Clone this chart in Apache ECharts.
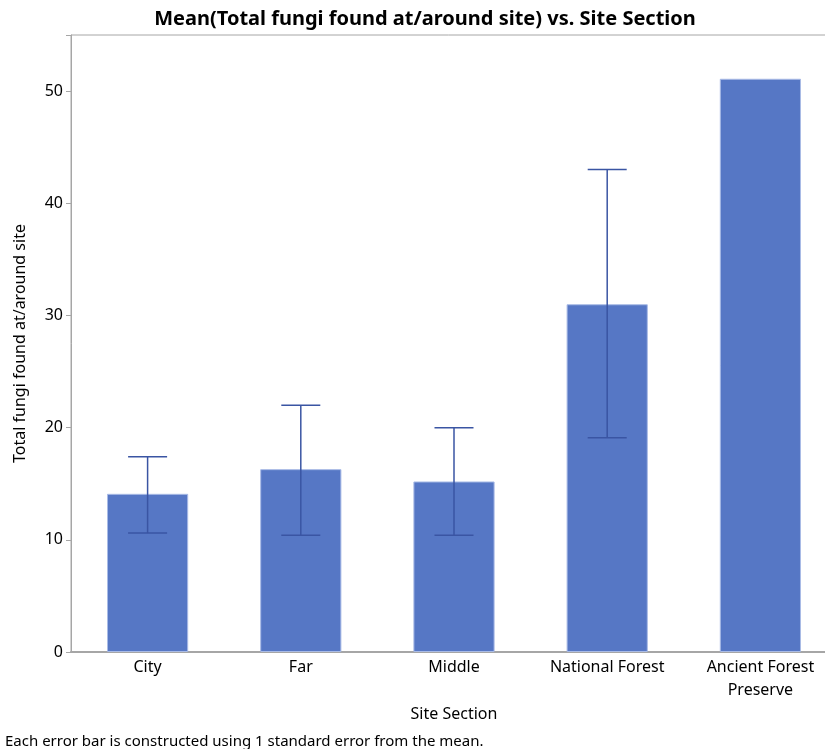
<!DOCTYPE html>
<html><head><meta charset="utf-8">
<script src="https://cdn.jsdelivr.net/npm/echarts@6/dist/echarts.min.js"></script>
<style>html,body{margin:0;padding:0;background:#fff}#c{width:825px;height:749px}</style>
</head><body><div id="c"></div>
<script>
var categories = ['City', 'Far', 'Middle', 'National Forest', 'Ancient Forest\nPreserve'];
var means = [14.1, 16.3, 15.2, 31.0, 51.1];
var errLow = [10.6, 10.4, 10.4, 19.1, null];
var errHigh = [17.4, 22.0, 20.0, 43.0, null];
var yTicks = [0, 10, 20, 30, 40, 50];

var FONT = "'Segoe UI', 'Noto Sans', sans-serif";
var chart = echarts.init(document.getElementById('c'));
var errData = categories.map(function (c, i) { return [i, errLow[i], errHigh[i]]; })
  .filter(function (d) { return d[1] != null; });

chart.setOption({
  animation: false,
  title: {
    text: 'Mean(Total fungi found at/around site) vs. Site Section',
    left: 420, top: 4, textAlign: 'center',
    textStyle: { fontFamily: FONT, fontSize: 20, fontWeight: 'bold', color: '#000' }
  },
  graphic: [{
    type: 'text', left: 5, top: 734,
    style: { text: 'Each error bar is constructed using 1 standard error from the mean.',
      font: "15px 'Segoe UI', 'Noto Sans', sans-serif", fill: '#000' }
  }],
  grid: { left: 71, top: 35, width: 766, height: 617, outerBoundsMode: 'none',
    show: true, borderColor: '#a6a6a6', borderWidth: 1 },
  xAxis: {
    type: 'category', data: categories,
    name: 'Site Section', nameLocation: 'middle', nameGap: 54,
    nameTextStyle: { fontFamily: FONT, fontSize: 16, color: '#000' },
    axisLine: { lineStyle: { color: '#a6a6a6', width: 2 } },
    axisTick: { show: false },
    axisLabel: { fontFamily: FONT, fontSize: 16, color: '#000', lineHeight: 23, margin: 4, interval: 0 }
  },
  yAxis: {
    type: 'value', min: 0, max: 55, interval: 10,
    name: 'Total fungi found at/around site', nameLocation: 'middle', nameGap: 43,
    nameTextStyle: { fontFamily: FONT, fontSize: 16, color: '#000' },
    axisLine: { show: true, lineStyle: { color: '#a6a6a6', width: 1 } },
    axisTick: { show: true, length: 5, lineStyle: { color: '#a6a6a6' } },
    axisLabel: { fontFamily: FONT, fontSize: 16, color: '#000', margin: 8,
      formatter: function (v) { return yTicks.indexOf(v) >= 0 ? String(v) : ''; } },
    splitLine: { show: false }
  },
  series: [{
    type: 'bar', data: means, barWidth: '53%',
    itemStyle: { color: '#5677c5', borderColor: '#a9bbe6', borderWidth: 1 }
  }, {
    type: 'custom', data: errData, z: 10,
    renderItem: function (params, api) {
      var x = api.value(0);
      var lo = api.coord([x, api.value(1)]);
      var hi = api.coord([x, api.value(2)]);
      var hw = 19.5;
      var st = { stroke: '#3a55a3', lineWidth: 1.5 };
      return { type: 'group', children: [
        { type: 'line', shape: { x1: hi[0], y1: hi[1], x2: lo[0], y2: lo[1] }, style: st },
        { type: 'line', shape: { x1: hi[0] - hw, y1: hi[1], x2: hi[0] + hw, y2: hi[1] }, style: st },
        { type: 'line', shape: { x1: lo[0] - hw, y1: lo[1], x2: lo[0] + hw, y2: lo[1] }, style: st }
      ]};
    }
  }]
});
</script></body></html>
